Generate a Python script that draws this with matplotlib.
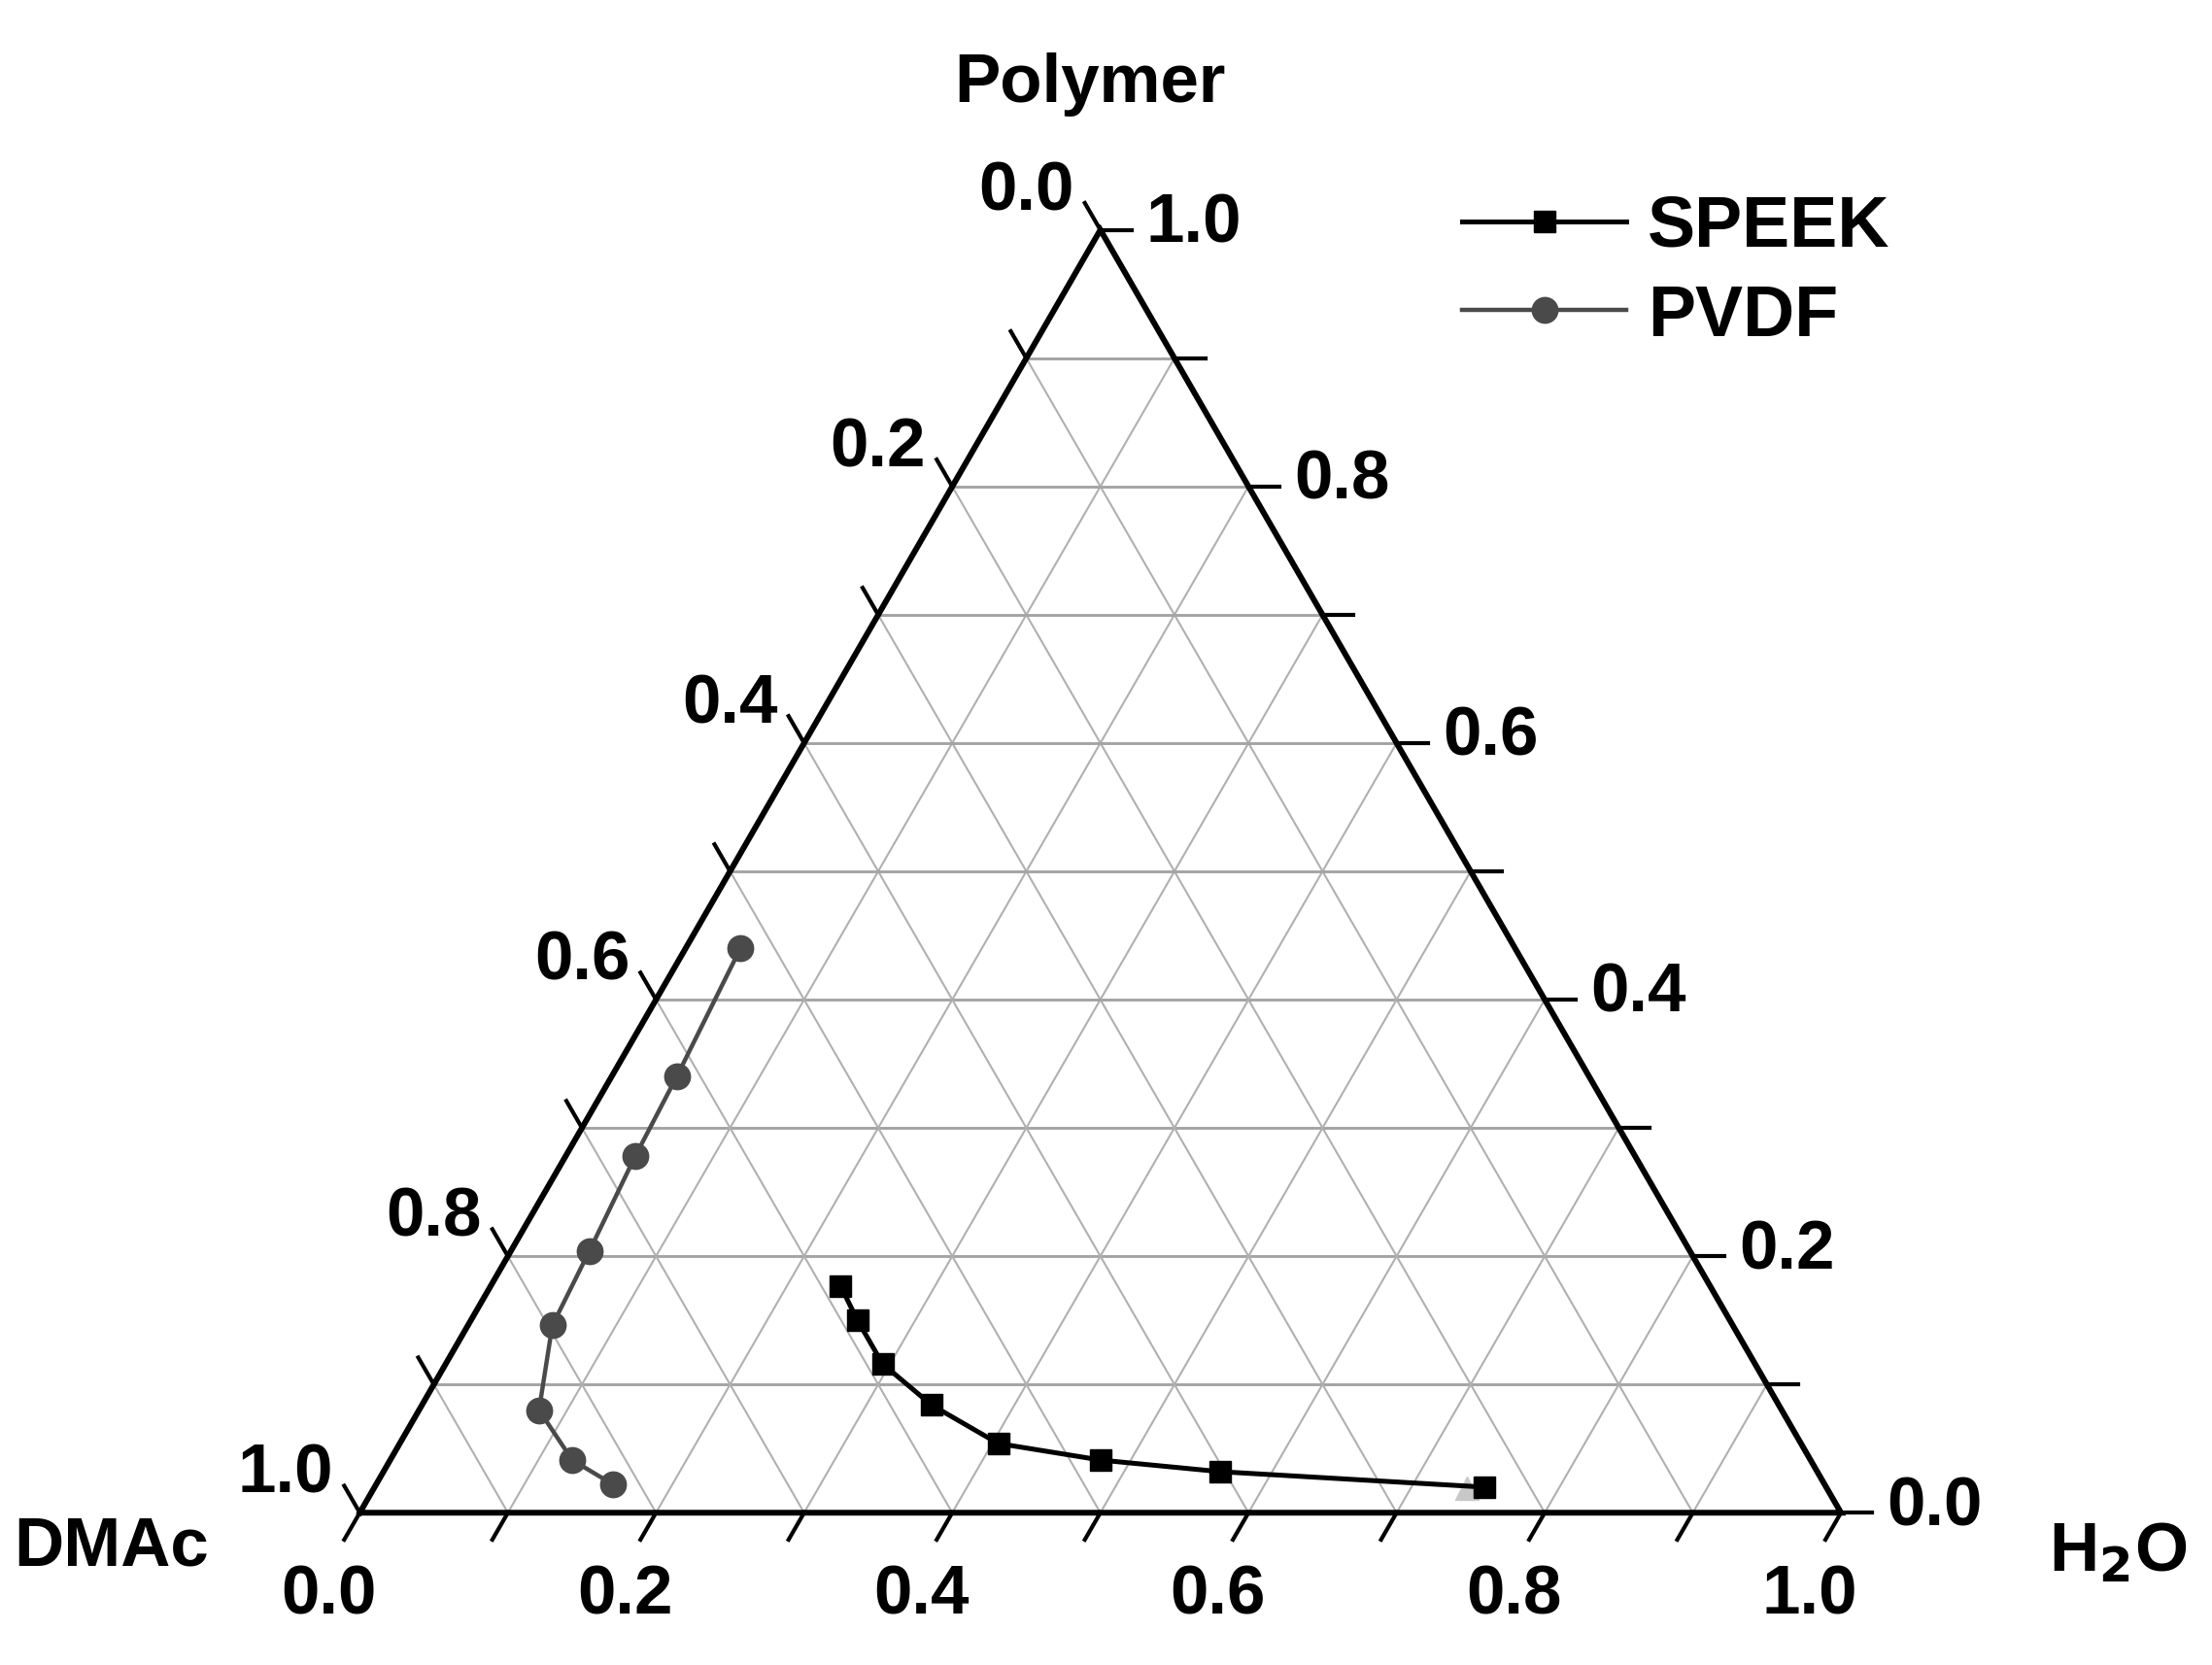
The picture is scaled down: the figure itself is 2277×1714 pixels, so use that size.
import numpy as np
import matplotlib.pyplot as plt

plt.rcParams['font.family'] = ['Liberation Sans', 'DejaVu Sans']
plt.rcParams['font.weight'] = 'bold'

# cloud point compositions (mass fraction), DMAc = 1 - H2O - Polymer
speek_h2o = [0.236, 0.261, 0.295, 0.344, 0.404, 0.480, 0.565, 0.749]
speek_polymer = [0.177, 0.150, 0.116, 0.084, 0.054, 0.041, 0.032, 0.020]
pvdf_h2o = [0.037, 0.044, 0.047, 0.053, 0.057, 0.081, 0.123, 0.160]
pvdf_polymer = [0.440, 0.340, 0.278, 0.204, 0.146, 0.080, 0.041, 0.022]
# faint grey marker hidden behind the last SPEEK point
ghost_h2o = [0.738]
ghost_polymer = [0.019]

tick_values = [0.0, 0.2, 0.4, 0.6, 0.8, 1.0]
tick_labels = ['0.0', '0.2', '0.4', '0.6', '0.8', '1.0']

H = np.sqrt(3) / 2
FS = 51


def to_xy(h2o, poly):
    h2o = np.asarray(h2o, dtype=float)
    poly = np.asarray(poly, dtype=float)
    return h2o + poly * 0.5, poly * H


fig = plt.figure(figsize=(22.77, 17.15), dpi=100)
ax = fig.add_axes([0, 0, 1, 1])
ax.set_xlim(-0.2429, 1.2505)
ax.set_ylim(-0.1028, 1.0219)
ax.axis('off')

# grid every 0.1 (horizontal lines a bit stronger, as in the original)
for v in np.arange(0.1, 0.95, 0.1):
    x, y = to_xy([0, 1 - v], [v, v])          # constant polymer
    ax.plot(x, y, color='#a4a4a4', lw=2.1, zorder=1)
    x, y = to_xy([v, v], [0, 1 - v])          # constant H2O
    ax.plot(x, y, color='#b0b0b0', lw=1.5, zorder=1)
    x, y = to_xy([1 - v, 0], [0, 1 - v])      # constant DMAc
    ax.plot(x, y, color='#b0b0b0', lw=1.5, zorder=1)

# triangle frame
x, y = to_xy([0, 1, 0, 0], [0, 0, 1, 0])
ax.plot(x, y, color='black', lw=4.3, zorder=3, solid_joinstyle='miter')

# ticks
tl = 0.021
for v in np.arange(0, 1.01, 0.1):
    # bottom axis (H2O)
    bx, by = to_xy(v, 0)
    ax.plot([bx, bx - 0.5 * tl], [by, by - H * tl], color='black', lw=3.0, zorder=3)
    # right axis (Polymer)
    rx, ry = to_xy(1 - v, v)
    ax.plot([rx, rx + tl], [ry, ry], color='black', lw=3.0, zorder=3)
    # left axis (DMAc)
    lx, ly = to_xy(0, 1 - v)
    ax.plot([lx, lx - 0.5 * tl], [ly, ly + H * tl], color='black', lw=3.0, zorder=3)

for v, lab in zip(tick_values, tick_labels):
    bx, by = to_xy(v, 0)
    ax.text(bx - 0.021, by - 0.056, lab, fontsize=FS, fontweight='bold',
            ha='center', va='center')
    rx, ry = to_xy(1 - v, v)
    ax.text(rx + 0.031, ry + 0.004, lab, fontsize=FS, fontweight='bold',
            ha='left', va='center')
    lx, ly = to_xy(0, 1 - v)
    ax.text(lx - 0.05, ly + 0.026, lab, fontsize=FS, fontweight='bold',
            ha='center', va='center')

# corner titles
ax.text(0.493, 0.965, 'Polymer', fontsize=FS, fontweight='bold', ha='center', va='center')
ax.text(-0.168, -0.023, 'DMAc', fontsize=FS, fontweight='bold', ha='center', va='center')
ax.text(1.187, -0.027, r'H$_\mathbf{2}$O', fontsize=FS, fontweight='bold', ha='center', va='center')

# data
gx, gy = to_xy(ghost_h2o, ghost_polymer)
ax.plot(gx, gy, linestyle='none', marker='^', ms=17, color='#c8c8c8', zorder=4)

sx, sy = to_xy(speek_h2o, speek_polymer)
ax.plot(sx, sy, color='black', lw=3.6, marker='s', ms=16, label='SPEEK', zorder=5)

px, py = to_xy(pvdf_h2o, pvdf_polymer)
ax.plot(px, py, color='#4a4a4a', lw=3.2, marker='o', ms=19, label='PVDF', zorder=5)

leg = ax.legend(loc='upper left', bbox_to_anchor=(0.648, 0.9), frameon=False,
                fontsize=FS + 2, handlelength=2.3, handletextpad=0.3,
                labelspacing=0.3, numpoints=1, borderaxespad=0)

fig.savefig('out.png', dpi=100)
